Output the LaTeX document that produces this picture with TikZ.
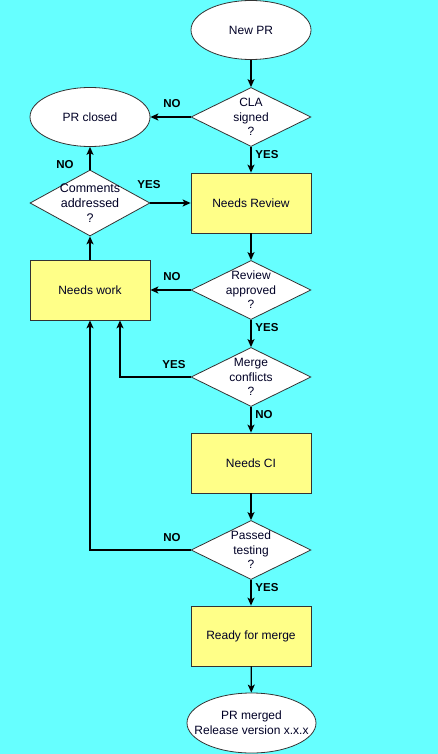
\documentclass[tikz,border=0pt]{standalone}
\usepackage{fontspec}
\setmainfont{Liberation Sans}
\usetikzlibrary{shapes.geometric,arrows.meta}
\definecolor{bgc}{RGB}{102,255,255}
\definecolor{boxc}{RGB}{255,255,136}
\definecolor{edgec}{RGB}{51,51,51}
\tikzset{
  every node/.style={font=\fontsize{12}{13}\selectfont, text=black!85!blue},
  startstop/.style={ellipse, draw=edgec, fill=white, line width=0.8pt, minimum width=120pt, minimum height=59pt, inner sep=0pt, align=center},
  procbox/.style={rectangle, draw=edgec, fill=boxc, line width=0.8pt, minimum width=120pt, minimum height=60pt, inner sep=0pt, align=center},
  decide/.style={diamond, draw=edgec, fill=white, line width=0.8pt, minimum width=120pt, minimum height=59pt, inner sep=0pt, aspect=2},
  dtext/.style={align=center, inner sep=0pt, font=\fontsize{12}{14.5}\selectfont},
  conn/.style={line width=1.2pt, -{Stealth[length=8pt,width=7pt,inset=2pt]}},
  lbl/.style={font=\bfseries\fontsize{11.5}{12}\selectfont, text=black}
}
\begin{document}
\begin{tikzpicture}[x=1pt,y=-1pt]
\fill[bgc] (0,0) rectangle (438,754);
\useasboundingbox (0,0) rectangle (438,754);
\node[startstop] (newpr) at (251,30) {New PR};
\node[decide] (cla) at (251,117) {};
\node[dtext] (clat) at (cla) {CLA\\signed\\?};
\node[startstop] (closed) at (90,117) {PR closed};
\node[procbox] (review) at (251,203) {Needs Review};
\node[decide, minimum height=66pt, aspect=1.8] (comments) at (90,203) {};
\node[dtext, font=\fontsize{12.5}{15}\selectfont] (commentst) at (comments) {Comments\\addressed\\?};
\node[decide] (approved) at (251,290) {};
\node[dtext] (approvedt) at (approved) {Review\\approved\\?};
\node[procbox] (work) at (90,290) {Needs work};
\node[decide] (merge) at (251,377) {};
\node[dtext] (merget) at (merge) {Merge\\conflicts\\?};
\node[procbox] (ci) at (251,463) {Needs CI};
\node[decide] (passed) at (251,550) {};
\node[dtext] (passedt) at (passed) {Passed\\testing\\?};
\node[procbox] (ready) at (251,636) {Ready for merge};
\node[startstop, minimum width=129pt, minimum height=60pt] (merged) at (251.5,723) {};
\node[align=center, font=\fontsize{12}{15}\selectfont] (mergedtext) at (251.5,723) {PR merged\\Release version x.x.x};
\coordinate (mergecorner) at (120,377);
\coordinate (passcorner) at (90,550);
\draw[conn] (newpr) -- (cla);
\draw[conn] (cla) -- (closed);
\draw[conn] (cla) -- (review);
\draw[conn] (comments) -- (review);
\draw[conn] (comments) -- (closed);
\draw[conn] (review) -- (approved);
\draw[conn] (approved) -- (work);
\draw[conn] (approved) -- (merge);
\draw[conn] (merge.west) -- (mergecorner) -- (mergecorner |- work.south);
\draw[conn] (work) -- (comments);
\draw[conn] (merge) -- (ci);
\draw[conn] (ci) -- (passed);
\draw[conn] (passed.west) -- (passcorner) -- (work.south);
\draw[conn] (passed) -- (ready);
\draw[conn] (ready) -- (merged);
\node[lbl] (l1) at (172,104) {NO};
\node[lbl] (l2) at (267,155) {YES};
\node[lbl] (l3) at (149,185) {YES};
\node[lbl] (l4) at (65,165) {NO};
\node[lbl] (l5) at (172,277) {NO};
\node[lbl] (l6) at (267,328) {YES};
\node[lbl] (l7) at (174,365) {YES};
\node[lbl] (l8) at (264,415) {NO};
\node[lbl] (l9) at (172,538) {NO};
\node[lbl] (l10) at (267,588) {YES};
\end{tikzpicture}
\end{document}
